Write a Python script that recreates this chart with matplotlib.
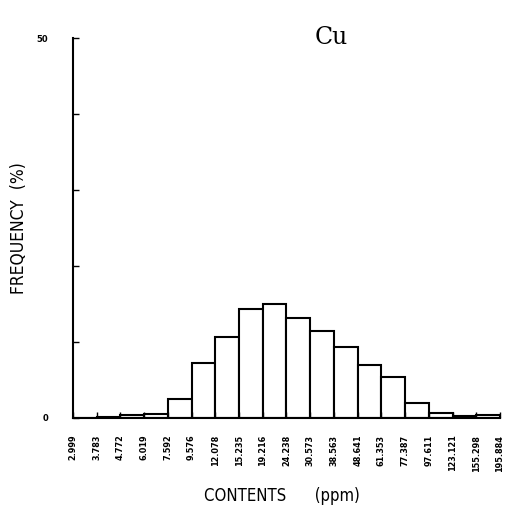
import matplotlib
matplotlib.use("Agg")
from matplotlib import pyplot as plt
import numpy as np

# bin edges (ppm) and frequency per bin (%)
edge_labels = ['2.999', '3.783', '4.772', '6.019', '7.592', '9.576', '12.078',
               '15.235', '19.216', '24.238', '30.573', '38.563', '48.641',
               '61.353', '77.387', '97.611', '123.121', '155.298', '195.884']
freq = [0.0, 0.1, 0.45, 0.55, 2.5, 7.2, 10.6, 14.4, 15.0, 13.1,
        11.5, 9.3, 7.0, 5.4, 2.0, 0.6, 0.3, 0.4]
y_ticks = [0, 10, 20, 30, 40, 50]
y_ticklabels = ['0', '', '', '', '', '50']

fig = plt.figure(figsize=(5.05, 5.16), dpi=100)
ax = fig.add_axes([0.1446, 0.190, 0.8454, 0.736])

pos = np.arange(len(freq))
ax.bar(pos, freq, width=1.0, align='edge', facecolor='white',
       edgecolor='black', linewidth=1.5)

ax.set_xlim(0, len(freq))
ax.set_ylim(0, 50)
ax.set_xticks(np.arange(len(edge_labels)))
ax.set_xticklabels(edge_labels, rotation=90, fontsize=6.5, fontweight='bold',
                   stretch='condensed')
ax.set_yticks(y_ticks)
ax.set_yticklabels(y_ticklabels, fontsize=6, fontweight='bold')

ax.tick_params(axis='x', direction='in', length=4, width=1, pad=12)
ax.tick_params(axis='y', direction='in', length=4, width=1, pad=18)

ax.spines['top'].set_visible(False)
ax.spines['right'].set_visible(False)
ax.spines['left'].set_linewidth(1.5)
ax.spines['bottom'].set_linewidth(1.5)

ax.set_ylabel('FREQUENCY  (%)', fontsize=12.5, stretch='condensed')
ax.yaxis.set_label_coords(-0.105, 0.5)
fig.text(0.558, 0.038, 'CONTENTS      (ppm)', fontsize=12, ha='center',
         va='center', stretch='condensed')
fig.text(0.655, 0.928, 'Cu', fontsize=17, family='serif', ha='center',
         va='center')

plt.savefig('out.png', dpi=100)
